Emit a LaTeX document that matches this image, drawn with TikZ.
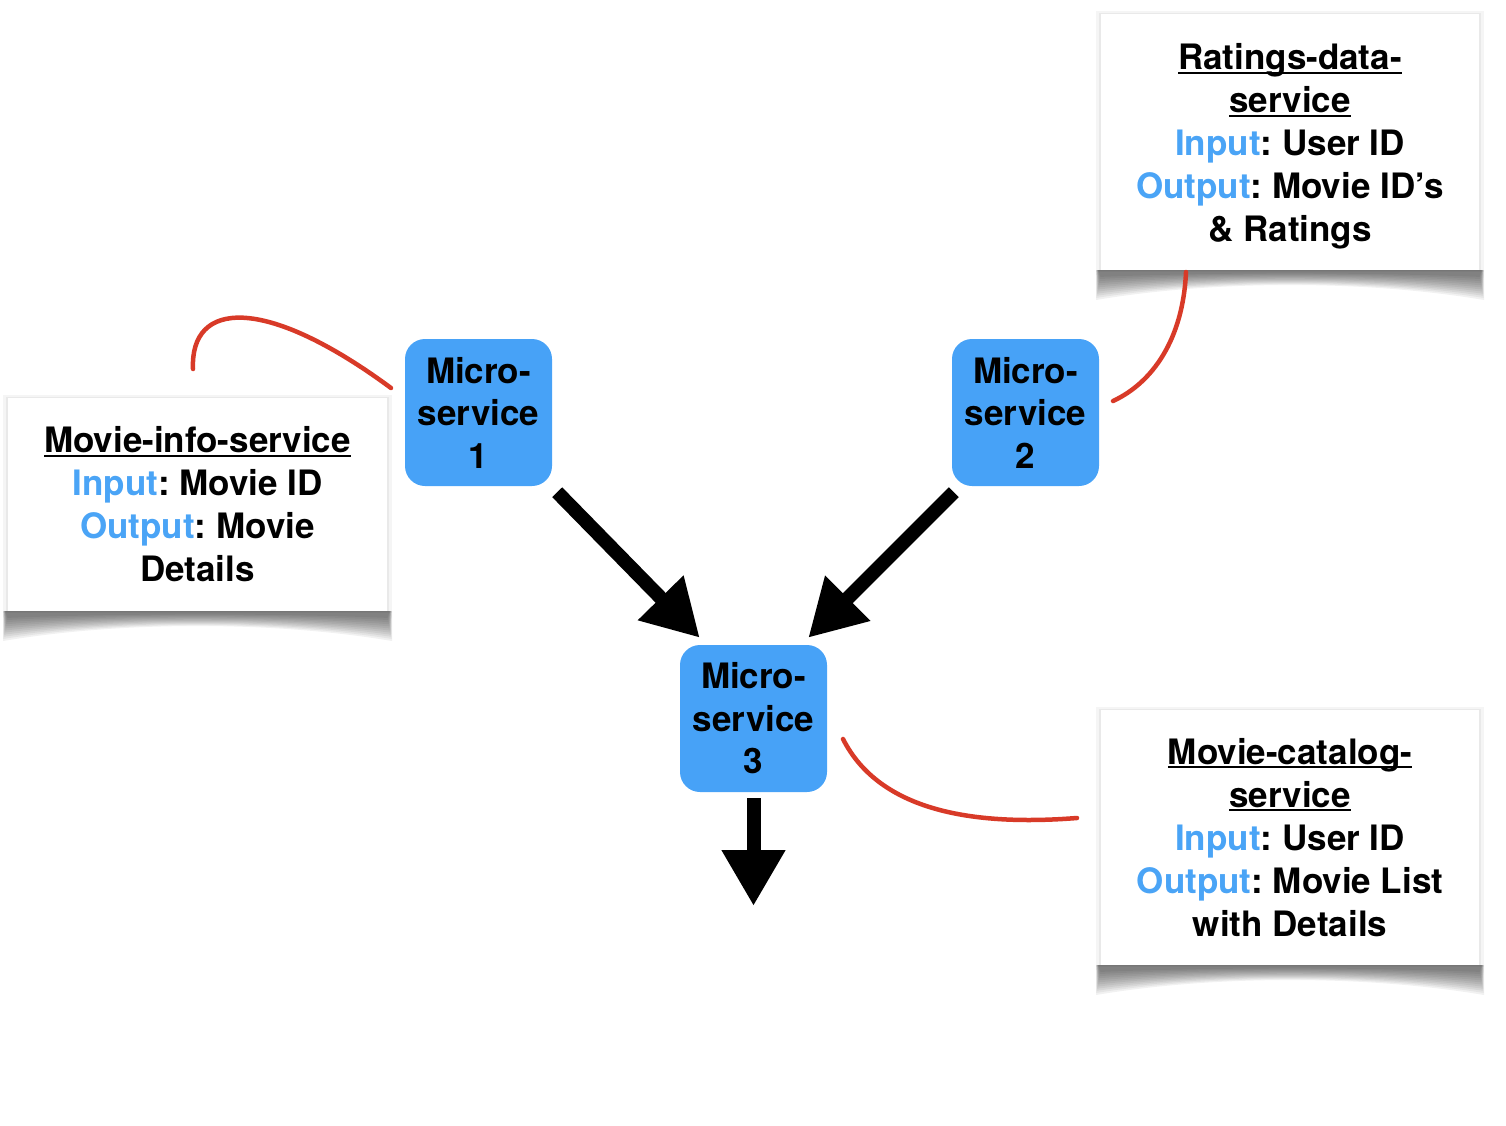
\documentclass[tikz,border=0pt]{standalone}
\usepackage{fontspec}
\setmainfont{TeX Gyre Heros}
\usetikzlibrary{arrows.meta}
\definecolor{msblue}{RGB}{71,162,247}
\definecolor{inblue}{RGB}{74,164,246}
\definecolor{curlred}{RGB}{216,58,40}
\frenchspacing
\newcommand\ulx[1]{\setbox0\hbox{#1}\rlap{\rule[-4pt]{\wd0}{2pt}}\box0}
\newcommand\blu[1]{\textcolor{inblue}{#1}}
\newcommand\curlshadow[4]{% x1, x2, ytop, ybottom
  \fill[black,opacity=0.04] (#1-5,#3-3) rectangle (#2+5,#4+2);
  \fill[black,opacity=0.05] (#1-2,#3-1) rectangle (#2+2,#4+1);
  \foreach \k in {0,...,11}{
    \fill[black,opacity=0.055] (#1-5+\k*0.2,#4) -- (#1-5+\k*0.4,#4+30-\k*2.1)
      .. controls ({#1+0.3*(#2-#1)},#4+10-\k*0.7) and ({#2-0.3*(#2-#1)},#4+10-\k*0.7) ..
      (#2+5-\k*0.4,#4+30-\k*2.1) -- (#2+5-\k*0.2,#4) -- cycle;}}
\begin{document}
\begin{tikzpicture}[x=1pt,y=-1pt,
  ms/.style={fill=msblue, rounded corners=20pt, minimum width=147pt, minimum height=147pt,
    inner sep=0pt, align=center, font=\fontsize{35}{42.5}\selectfont\bfseries},
  note/.style={fill=white, inner sep=0pt, align=center, font=\fontsize{35}{43}\selectfont\bfseries},
  fat/.style={line width=14pt, -{Triangle[length=56pt,width=60pt]}},
  curl/.style={curlred, line width=4.5pt, line cap=round}]
\useasboundingbox (0,0) rectangle (1506,1126);

% note shadows
\curlshadow{8}{387}{398}{611}
\curlshadow{1101}{1479}{14}{270}
\curlshadow{1101}{1479}{710}{965}

% notes
\node[note, minimum width=379pt, minimum height=213pt] (n1) at (197.5,504.5)
  {\ulx{Movie-info-service}\\ \blu{Input}: Movie ID\\ \blu{Output}: Movie\\ Details};
\node[note, minimum width=378pt, minimum height=256pt] (n2) at (1290,142)
  {\rule{0pt}{35pt}\ulx{Ratings-data-}\\ \ulx{service}\\ \blu{Input}: User ID\\ \blu{Output}: Movie ID’s\\ \& Ratings};
\node[note, minimum width=378pt, minimum height=255pt] (n3) at (1290,837.5)
  {\ulx{Movie-catalog-}\\ \ulx{service}\\ \blu{Input}: User ID\\ \blu{Output}: Movie List\\ with Details};

% microservices
\node[ms] (ms1) at (478.5,412.5) {Micro-\\service\\1};
\node[ms] (ms2) at (1025.5,412.5) {Micro-\\service\\2};
\node[ms] (ms3) at (753.5,718.5) {Micro-\\service\\3};

% arrows
\draw[fat] ([shift={(5,6)}]ms1.south east) -- ([shift={(20,-7)}]ms3.north west);
\draw[fat] ([shift={(2,6)}]ms2.south west) -- ([shift={(-19,-7)}]ms3.north east);
\coordinate (out) at (753.5,906);
\draw[fat] ([shift={(0,6)}]ms3.south) -- (out);

% red curls
\coordinate (c1a) at (193,369);
\coordinate (c1b) at (391,388);
\draw[curl] (c1a) .. controls (190,300) and (265,295) .. (c1b);
\coordinate (c2a) at (1186,272);
\coordinate (c2b) at (1113,401);
\draw[curl] (c2a) .. controls (1183,340) and (1152,383) .. (c2b);
\coordinate (c3a) at (843,739);
\coordinate (c3b) at (1077,818);
\draw[curl] (c3a) .. controls (880,812) and (975,826) .. (c3b);
\end{tikzpicture}
\end{document}
